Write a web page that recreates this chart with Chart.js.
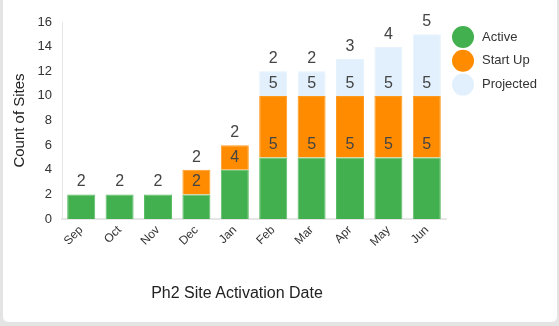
<!DOCTYPE html>
<html>
<head>
<meta charset="utf-8">
<script src="https://cdn.jsdelivr.net/npm/chart.js@4"></script>
<style>
  html, body { margin: 0; padding: 0; background: #e4e4e4; }
  #wrap { position: relative; width: 559px; height: 326px; overflow: hidden; }
  #card { position: absolute; left: 3px; top: 0; width: 554px; height: 322px; background: #fff; border-radius: 0 0 5px 5px; }
  #c { position: absolute; left: 0; top: 0; }
  #xtitle { position: absolute; left: 137px; width: 200px; top: 284px; text-align: center;
            font: 16px "Liberation Sans", Arial, sans-serif; color: #222; }
</style>
</head>
<body>
<div id="wrap">
  <div id="card"></div>
  <canvas id="c" width="559" height="326"></canvas>
  <div id="xtitle">Ph2 Site Activation Date</div>
</div>
<script>
const categories = ["Sep", "Oct", "Nov", "Dec", "Jan", "Feb", "Mar", "Apr", "May", "Jun"];
const activeValues    = [2, 2, 2, 2, 4, 5, 5, 5, 5, 5];
const startUpValues   = [0, 0, 0, 2, 2, 5, 5, 5, 5, 5];
const projectedValues = [0, 0, 0, 0, 0, 2, 2, 3, 4, 5];
const seriesNames = ["Active", "Start Up", "Projected"];
const seriesColors = ["#43b04f", "#ff8c00", "#e1f0fc"];
const seriesEdges = ["#5cbd66", "#ff9a20", "#e6f2fc"];
const yTicks = [0, 2, 4, 6, 8, 10, 12, 14, 16];

const FONT = '"Liberation Sans", Arial, sans-serif';

const valueLabels = {
  id: 'valueLabels',
  afterDatasetsDraw(chart) {
    const ctx = chart.ctx;
    ctx.save();
    ctx.font = '16px ' + FONT;
    ctx.fillStyle = '#444';
    ctx.textAlign = 'center';
    ctx.textBaseline = 'alphabetic';
    chart.data.datasets.forEach((ds, i) => {
      const meta = chart.getDatasetMeta(i);
      meta.data.forEach((bar, j) => {
        const v = ds.data[j];
        if (!v) return;
        ctx.fillText(String(v), bar.x, bar.y - 8);
      });
    });
    ctx.restore();
  }
};

const sideLegend = {
  id: 'sideLegend',
  afterDraw(chart) {
    const ctx = chart.ctx;
    ctx.save();
    chart.data.datasets.forEach((ds, i) => {
      const cy = 37 + i * 23.8;
      ctx.beginPath();
      ctx.arc(463, cy, 11, 0, Math.PI * 2);
      ctx.fillStyle = ds.backgroundColor;
      ctx.fill();
      ctx.font = '13px ' + FONT;
      ctx.fillStyle = '#333';
      ctx.textAlign = 'left';
      ctx.textBaseline = 'middle';
      ctx.fillText(ds.label, 482, cy);
    });
    ctx.restore();
  }
};

const datasets = [activeValues, startUpValues, projectedValues].map((vals, i) => ({
  label: seriesNames[i],
  data: vals,
  backgroundColor: seriesColors[i],
  borderColor: seriesEdges[i],
  borderWidth: 1,
  categoryPercentage: 0.73,
  barPercentage: 1.0
}));

new Chart(document.getElementById('c'), {
  type: 'bar',
  data: { labels: categories, datasets },
  options: {
    responsive: false,
    animation: false,
    layout: { padding: { left: 0, right: 113, top: 22, bottom: 0 } },
    plugins: { legend: { display: false }, tooltip: { enabled: false } },
    scales: {
      x: {
        stacked: true,
        grid: { display: false, drawTicks: false },
        border: { display: true, color: '#e6e6e6', width: 2 },
        ticks: { color: '#333', font: { size: 12, family: FONT }, maxRotation: 45, minRotation: 45, padding: 4, autoSkip: false },
        afterFit(s) { s.height = 107; }
      },
      y: {
        stacked: true,
        min: 0, max: 16,
        afterBuildTicks(s) { s.ticks = yTicks.map(v => ({ value: v })); },
        grid: { display: false, drawTicks: false },
        border: { display: true, color: '#e6e6e6', width: 1 },
        ticks: { color: '#333', font: { size: 13, family: FONT }, padding: 10 },
        title: { display: true, text: 'Count of Sites', color: '#222', font: { size: 15, family: FONT }, padding: { top: 11, bottom: 0 } },
        afterFit(s) { s.width = 62; }
      }
    }
  },
  plugins: [valueLabels, sideLegend]
});
</script>
</body>
</html>
